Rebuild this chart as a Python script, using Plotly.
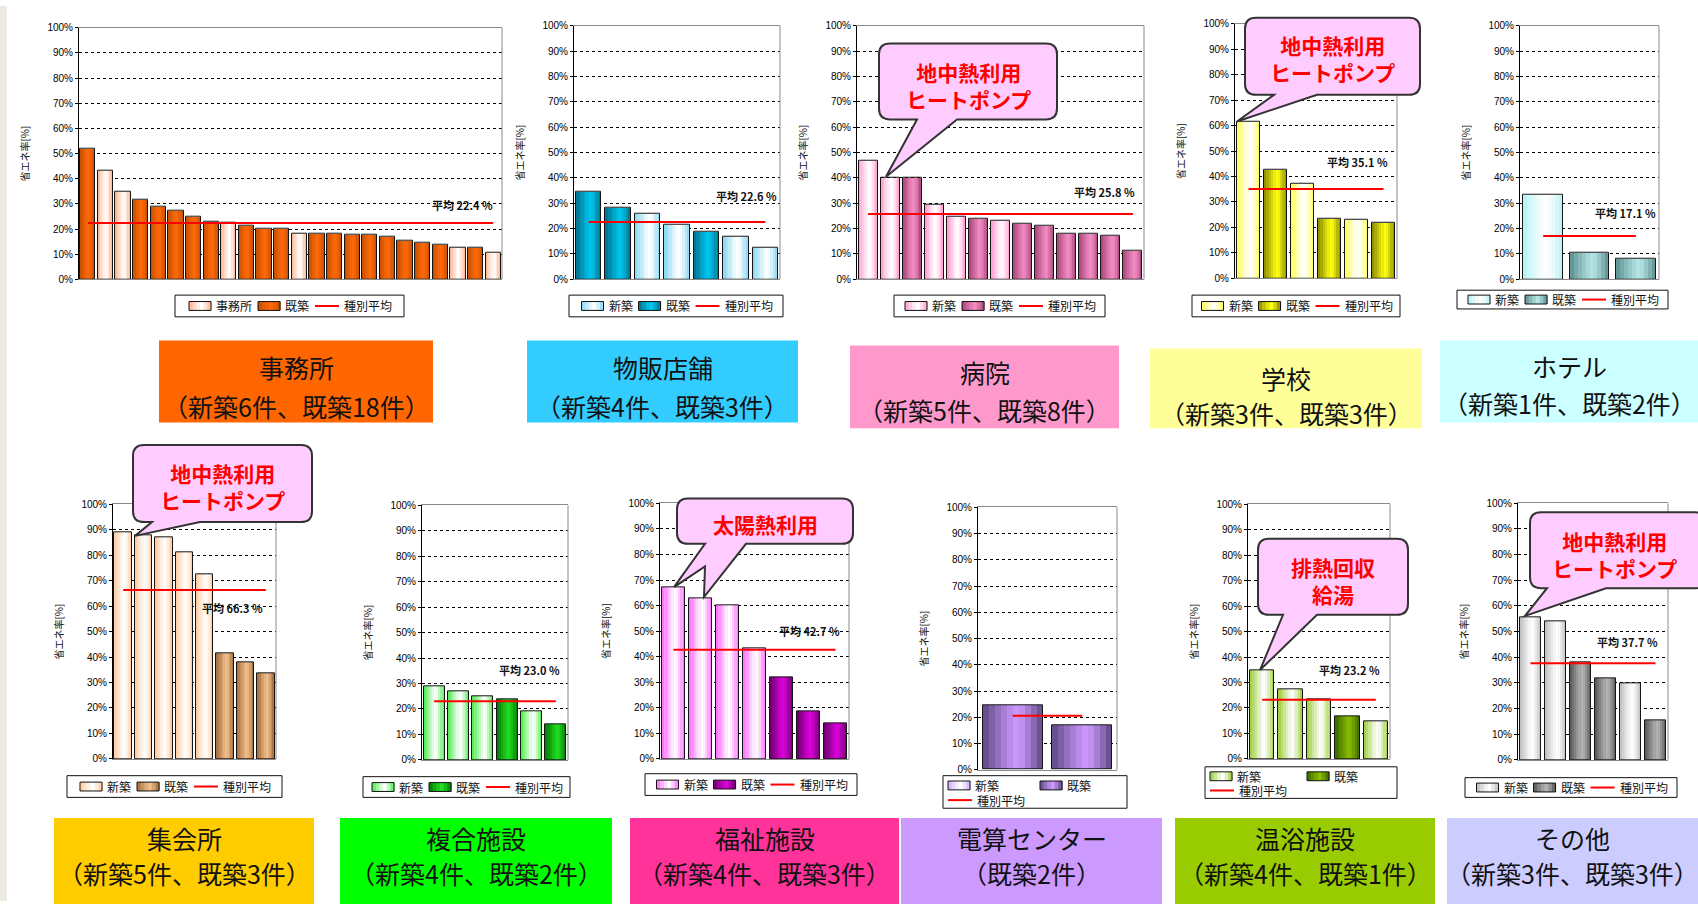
import plotly.graph_objects as go

W, H = 1698, 907

# ---------------- 省エネ率 (%) by building, per use category ----------------
OFFICE_VALS = [52.0, 43.3, 34.7, 31.5, 29.0, 27.4, 24.8, 23.0, 22.4, 21.5, 20.2, 20.2,
               18.2, 18.2, 18.2, 17.9, 17.9, 16.8, 15.4, 14.6, 13.7, 12.6, 12.6, 10.7]
OFFICE_KIND = ["既築", "新築", "新築", "既築", "既築", "既築", "既築", "既築", "新築", "既築", "既築", "既築",
               "新築", "既築", "既築", "既築", "既築", "既築", "既築", "既築", "既築", "新築", "既築", "新築"]
OFFICE_AVG = 22.4

SHOP_VALS = [34.6, 28.1, 25.9, 21.4, 18.7, 16.7, 12.6]
SHOP_KIND = ["既築", "既築", "新築", "新築", "既築", "新築", "新築"]
SHOP_AVG = 22.6

HOSP_VALS = [46.9, 40.0, 40.0, 29.4, 24.7, 24.0, 23.3, 21.9, 21.2, 18.1, 18.1, 17.2, 11.3]
HOSP_KIND = ["新築", "新築", "既築", "新築", "新築", "既築", "新築", "既築", "既築", "既築", "既築", "既築", "既築"]
HOSP_AVG = 25.8

SCHOOL_VALS = [61.5, 42.7, 37.2, 23.4, 23.1, 21.8]
SCHOOL_KIND = ["新築", "既築", "新築", "既築", "新築", "既築"]
SCHOOL_AVG = 35.1

HOTEL_VALS = [33.3, 10.6, 8.0]
HOTEL_KIND = ["新築", "既築", "既築"]
HOTEL_AVG = 17.1

HALL_VALS = [89.0, 88.0, 87.0, 81.0, 72.5, 41.5, 38.0, 33.5]
HALL_KIND = ["新築", "新築", "新築", "新築", "新築", "既築", "既築", "既築"]
HALL_AVG = 66.3

MIXED_VALS = [29.0, 27.1, 24.9, 23.8, 19.0, 13.8]
MIXED_KIND = ["新築", "新築", "新築", "既築", "新築", "既築"]
MIXED_AVG = 23.0

WELFARE_VALS = [67.3, 62.7, 60.1, 43.4, 31.9, 18.7, 14.0]
WELFARE_KIND = ["新築", "新築", "新築", "新築", "既築", "既築", "既築"]
WELFARE_AVG = 42.7

DC_VALS = [24.7, 17.1]
DC_KIND = ["既築", "既築"]
DC_AVG = 20.6

BATH_VALS = [34.9, 27.4, 23.3, 16.6, 14.8]
BATH_KIND = ["新築", "新築", "新築", "既築", "新築"]
BATH_AVG = 23.2

OTHER_VALS = [55.5, 54.2, 38.1, 31.9, 29.8, 15.4]
OTHER_KIND = ["新築", "新築", "既築", "既築", "新築", "既築"]
OTHER_AVG = 37.7

TICK_VALUES = list(range(0, 101, 10))
TICK_TEXT = [f"{v}%" for v in TICK_VALUES]
Y_TITLE = "省エネ率[%]"
LEGEND_NAMES = ("新築", "既築", "種別平均")

# ---------------- panel layout & styling ----------------
PANELS = [
    dict(vals=OFFICE_VALS, kind=OFFICE_KIND, avg=OFFICE_AVG, plot=(79, 502, 22, 277),
         avg_lab=(23.1, 29.5), new=("#FFB08A", "#FFFFFF"), old=("#C24E00", "#FF6A08"),
         legend=(175, 293, 404, 315), legend_rows=1, new_name="事務所",
         box=(159, 339, 433, 422), box_col="#FF6600", title="事務所", sub="（新築6件、既築18件）", ty=(366, 405)),
    dict(vals=SHOP_VALS, kind=SHOP_KIND, avg=SHOP_AVG, plot=(574, 780, 20, 277),
         avg_lab=(6.45, 33.0), new=("#86D6F2", "#FFFFFF"), old=("#006E8A", "#00C6EE"),
         legend=(569, 293, 783, 315), legend_rows=1,
         box=(527, 339, 798, 422), box_col="#33CCFF", title="物販店舗", sub="（新築4件、既築3件）", ty=(366, 405)),
    dict(vals=HOSP_VALS, kind=HOSP_KIND, avg=HOSP_AVG, plot=(857, 1144, 20, 277),
         avg_lab=(12.2, 34.6), new=("#FF9ACD", "#FFFFFF"), old=("#A8447A", "#F28CC2"),
         legend=(894, 293, 1105, 315), legend_rows=1,
         box=(850, 344, 1119, 428), box_col="#FF99CC", title="病院", sub="（新築5件、既築8件）", ty=(371, 409)),
    dict(vals=SCHOOL_VALS, kind=SCHOOL_KIND, avg=SCHOOL_AVG, plot=(1235, 1397, 18, 276),
         avg_lab=(5.25, 45.7), new=("#FFFF55", "#FFFFFF"), old=("#858500", "#FFFF10"),
         legend=(1192, 293, 1400, 315), legend_rows=1,
         box=(1150, 347, 1422, 428), box_col="#FFFF99", title="学校", sub="（新築3件、既築3件）", ty=(377, 412)),
    dict(vals=HOTEL_VALS, kind=HOTEL_KIND, avg=HOTEL_AVG, plot=(1520, 1659, 20, 277),
         avg_lab=(2.47, 26.0), new=("#B8F2F2", "#FFFFFF"), old=("#5A8E8E", "#B6E6E6"),
         legend=(1457, 288, 1668, 307), legend_rows=1,
         box=(1440, 339, 1698, 422), box_col="#CCFFFF", title="ホテル", sub="（新築1件、既築2件）", ty=(365, 402)),
    dict(vals=HALL_VALS, kind=HALL_KIND, avg=HALL_AVG, plot=(113, 276, 505, 763),
         avg_lab=(6.95, 59.3), new=("#FFC89C", "#FFFFFF"), old=("#A06A38", "#F2BE8C"),
         legend=(67, 780, 282, 802), legend_rows=1,
         box=(54, 823, 314, 910), box_col="#FFCC00", title="集会所", sub="（新築5件、既築3件）", ty=(843, 879)),
    dict(vals=MIXED_VALS, kind=MIXED_KIND, avg=MIXED_AVG, plot=(422, 568, 506, 764),
         avg_lab=(5.27, 35.3), new=("#44EE44", "#FFFFFF"), old=("#007800", "#22DD22"),
         legend=(363, 781, 570, 802), legend_rows=1,
         box=(340, 823, 612, 910), box_col="#00FF00", title="複合施設", sub="（新築4件、既築2件）", ty=(843, 879)),
    dict(vals=WELFARE_VALS, kind=WELFARE_KIND, avg=WELFARE_AVG, plot=(660, 849, 504, 763),
         avg_lab=(6.25, 50.2), new=("#FF66FF", "#FFFFFF"), old=("#640064", "#DD00DD"),
         legend=(645, 778, 857, 800), legend_rows=1,
         box=(630, 823, 899, 910), box_col="#FF3399", title="福祉施設", sub="（新築4件、既築3件）", ty=(843, 879)),
    dict(vals=DC_VALS, kind=DC_KIND, avg=DC_AVG, plot=(978, 1117, 508, 774),
         avg_lab=(1.55, 31.6), new=("#CCAAFF", "#FFFFFF"), old=("#5C4880", "#CC99FF"),
         legend=(943, 780, 1127, 813), legend_rows=2, col2=97,
         box=(901, 823, 1162, 910), box_col="#CC99FF", title="電算センター", sub="（既築2件）", ty=(843, 879)),
    dict(vals=BATH_VALS, kind=BATH_KIND, avg=BATH_AVG, plot=(1248, 1390, 505, 763),
         avg_lab=(4.22, 34.9), new=("#99CC33", "#FFFFFF"), old=("#3A6400", "#88BB00"),
         legend=(1205, 771, 1397, 803), legend_rows=2, col2=102,
         box=(1175, 823, 1435, 910), box_col="#99CC00", title="温浴施設", sub="（新築4件、既築1件）", ty=(843, 879)),
    dict(vals=OTHER_VALS, kind=OTHER_KIND, avg=OTHER_AVG, plot=(1518, 1668, 504, 764),
         avg_lab=(5.18, 45.8), new=("#BBBBBB", "#FFFFFF"), old=("#545454", "#B4B4B4"),
         legend=(1465, 782, 1677, 802), legend_rows=1,
         box=(1447, 823, 1698, 910), box_col="#CCCCFF", title="その他", sub="（新築3件、既築3件）", ty=(843, 879)),
]

# speech bubbles: box, tail vertices on the bottom edge (right to left), text, text centre y
CALLOUTS = [
    dict(box=(879, 38, 1057, 115), tail=[(957, 115), (886, 173), (917, 115)],
         text="地中熱利用<br>ヒートポンプ", cy=81),
    dict(box=(1245, 12, 1420, 90), tail=[(1317, 90), (1237, 117), (1274, 90)],
         text="地中熱利用<br>ヒートポンプ", cy=53),
    dict(box=(133, 445, 312, 523), tail=[(200, 523), (135, 537), (152, 523)],
         text="地中熱利用<br>ヒートポンプ", cy=487),
    dict(box=(677, 499, 853, 545), tail=[(746, 545), (704, 599), (705, 568), (674, 589), (705, 545)],
         text="太陽熱利用", cy=525),
    dict(box=(1258, 540, 1408, 617), tail=[(1317, 617), (1260, 673), (1283, 617)],
         text="排熱回収<br>給湯", cy=582),
    dict(box=(1530, 513, 1706, 590), tail=[(1606, 590), (1525, 618), (1547, 590)],
         text="地中熱利用<br>ヒートポンプ", cy=556),
]

FONT = "Noto Sans CJK JP, Noto Sans, sans-serif"
TICK_FONT = "Liberation Sans Narrow, Liberation Sans, Arial, sans-serif"
BAR_W = 0.86
STRIPS = 10


def px(x, y):
    return x / W, 1 - y / H


def hex_rgb(h):
    return tuple(int(h[i:i + 2], 16) for i in (1, 3, 5))


def mix(a, b, t):
    ra, rb = hex_rgb(a), hex_rgb(b)
    return "#%02X%02X%02X" % tuple(round(ra[i] + (rb[i] - ra[i]) * t) for i in range(3))


def gradient(edge, center, k, peak=0.58):
    cols = []
    for j in range(k):
        t = (j + 0.5) / k
        w = (peak - t) / peak if t < peak else (t - peak) / (1 - peak)
        cols.append(mix(center, edge, min(1.0, w) ** 1.2))
    return cols


def path_str(cmds):
    out = []
    for c, pts in cmds:
        out.append(c + " ".join("%.5f,%.5f" % px(x, y) for x, y in pts))
    return " ".join(out) + " Z"


def callout_path(box, tail, r=11):
    x0, y0, x1, y1 = box
    cmds = [("M", [(x0 + r, y0)]), ("L", [(x1 - r, y0)]), ("Q", [(x1, y0), (x1, y0 + r)]),
            ("L", [(x1, y1 - r)]), ("Q", [(x1, y1), (x1 - r, y1)])]
    cmds += [("L", [p]) for p in tail]
    cmds += [("L", [(x0 + r, y1)]), ("Q", [(x0, y1), (x0, y1 - r)]),
             ("L", [(x0, y0 + r)]), ("Q", [(x0, y0), (x0 + r, y0)])]
    return path_str(cmds)


fig = go.Figure()
shapes, annotations = [], []

# thin page strip on the left edge
shapes.append(dict(type="rect", xref="paper", yref="paper", x0=0, x1=7 / W, y0=0, y1=1,
                   fillcolor="#ECEAE1", line=dict(width=0), layer="below"))

for i, p in enumerate(PANELS):
    n = i + 1
    sfx = "" if n == 1 else str(n)
    xa, ya = "x" + sfx, "y" + sfx
    vals, kind = p["vals"], p["kind"]
    idx = list(range(len(vals)))

    for kname, (edge, center) in (("新築", p["new"]), ("既築", p["old"])):
        xs = [j for j in idx if kind[j] == kname]
        ys = [vals[j] for j in xs]
        if not xs:
            continue
        for k, col in enumerate(gradient(edge, center, STRIPS)):
            wk = BAR_W / STRIPS * (1.25 if k < STRIPS - 1 else 1.0)
            fig.add_trace(go.Bar(x=xs, y=ys, width=wk, offset=-BAR_W / 2 + k * BAR_W / STRIPS,
                                 marker=dict(color=col, line=dict(width=0)),
                                 xaxis=xa, yaxis=ya, hoverinfo="skip", showlegend=False))
    # bar outlines
    fig.add_trace(go.Bar(x=idx, y=vals, width=BAR_W, offset=-BAR_W / 2,
                         marker=dict(color="rgba(0,0,0,0)", line=dict(color="#151515", width=1)),
                         xaxis=xa, yaxis=ya, hoverinfo="skip", showlegend=False))
    # category average
    fig.add_trace(go.Scatter(x=[0, len(vals) - 1], y=[p["avg"], p["avg"]], mode="lines",
                             line=dict(color="#FF0000", width=2), xaxis=xa, yaxis=ya,
                             hoverinfo="skip", showlegend=False))

    x0, x1, yt, yb = p["plot"]
    fig.layout["xaxis" + sfx] = dict(domain=[x0 / W, x1 / W], range=[-0.5, len(vals) - 0.5],
                                     anchor=ya, showticklabels=False, ticks="", showgrid=False,
                                     zeroline=False, showline=True, mirror=True,
                                     linecolor="#8A8A8A", linewidth=1, fixedrange=True)
    fig.layout["yaxis" + sfx] = dict(domain=[1 - yb / H, 1 - yt / H], range=[0, 100], anchor=xa,
                                     tickvals=TICK_VALUES, ticktext=TICK_TEXT,
                                     tickfont=dict(family=TICK_FONT, size=10, color="#000"),
                                     ticks="outside", ticklen=3, tickcolor="#000",
                                     showgrid=True, gridcolor="#000", griddash="dot", gridwidth=1,
                                     zeroline=False, showline=True, linecolor="#000", linewidth=1,
                                     title=dict(text=Y_TITLE, font=dict(family=FONT, size=10, color="#111"),
                                                standoff=15),
                                     fixedrange=True)
    # right-hand frame edge
    shapes.append(dict(type="line", xref=xa + " domain", yref=ya + " domain", x0=1, x1=1, y0=0, y1=1,
                       line=dict(color="#8A8A8A", width=1), layer="above"))

    # average label
    ax, ay = p["avg_lab"]
    annotations.append(dict(xref=xa, yref=ya, x=ax, y=ay, xanchor="right", yanchor="middle",
                            text="<b>平均 %.1f %%</b>" % p["avg"], showarrow=False,
                            font=dict(family=FONT, size=11, color="#111")))

    # legend box
    lx0, ly0, lx1, ly1 = p["legend"]
    shapes.append(dict(type="rect", xref="paper", yref="paper",
                       x0=lx0 / W, x1=lx1 / W, y0=1 - ly1 / H, y1=1 - ly0 / H,
                       fillcolor="#FFFFFF", line=dict(color="#111", width=1)))
    fs = 12
    names = (p.get("new_name", LEGEND_NAMES[0]), LEGEND_NAMES[1], LEGEND_NAMES[2])

    def swatch(sx, cy, edge, center):
        sw, sh = 22, 9
        cols = gradient(edge, center, 6)
        for k, c in enumerate(cols):
            a = sx + k * sw / 6
            shapes.append(dict(type="rect", xref="paper", yref="paper",
                               x0=a / W, x1=(a + sw / 6 + 0.6) / W,
                               y0=1 - (cy + sh / 2) / H, y1=1 - (cy - sh / 2) / H,
                               fillcolor=c, line=dict(width=0)))
        shapes.append(dict(type="rect", xref="paper", yref="paper",
                           x0=sx / W, x1=(sx + sw) / W, y0=1 - (cy + sh / 2) / H, y1=1 - (cy - sh / 2) / H,
                           fillcolor="rgba(0,0,0,0)", line=dict(color="#111", width=1)))
        return sx + sw

    def ltext(tx, cy, s):
        annotations.append(dict(xref="paper", yref="paper", x=tx / W, y=1 - cy / H, xanchor="left",
                                yanchor="middle", text=s, showarrow=False,
                                font=dict(family=FONT, size=fs, color="#111")))
        return tx + fs * len(s)

    def lline(sx, cy):
        shapes.append(dict(type="line", xref="paper", yref="paper", x0=sx / W, x1=(sx + 24) / W,
                           y0=1 - cy / H, y1=1 - cy / H, line=dict(color="#FF0000", width=2)))
        return sx + 24

    if p["legend_rows"] == 1:
        cy = (ly0 + ly1) / 2
        natural = 22 + 3 + fs * len(names[0]) + 8 + 22 + 3 + fs * len(names[1]) + 8 + 24 + 3 + fs * 4
        cx = lx0 + (lx1 - lx0 - natural) / 2
        cx = ltext(swatch(cx, cy, *p["new"]) + 3, cy, names[0]) + 8
        cx = ltext(swatch(cx, cy, *p["old"]) + 3, cy, names[1]) + 8
        ltext(lline(cx, cy) + 3, cy, names[2])
    else:
        r1 = ly0 + (ly1 - ly0) * 0.3
        r2 = ly0 + (ly1 - ly0) * 0.75
        ltext(swatch(lx0 + 5, r1, *p["new"]) + 3, r1, names[0])
        ltext(swatch(lx0 + p["col2"], r1, *p["old"]) + 3, r1, names[1])
        ltext(lline(lx0 + 5, r2) + 3, r2, names[2])

    # category label box
    bx0, by0, bx1, by1 = p["box"]
    shapes.append(dict(type="rect", xref="paper", yref="paper",
                       x0=bx0 / W, x1=bx1 / W, y0=1 - by1 / H, y1=1 - by0 / H,
                       fillcolor=p["box_col"], line=dict(width=0)))
    cxm = (bx0 + bx1) / 2
    for text, yy in ((p["title"], p["ty"][0]), (p["sub"], p["ty"][1])):
        annotations.append(dict(xref="paper", yref="paper", x=cxm / W, y=1 - yy / H,
                                xanchor="center", yanchor="middle", text=text, showarrow=False,
                                font=dict(family=FONT, size=25, color="#111")))

# speech-bubble callouts
for c in CALLOUTS:
    shapes.append(dict(type="path", xref="paper", yref="paper", path=callout_path(c["box"], c["tail"]),
                       fillcolor="#FFCCFF", line=dict(color="#333333", width=2), layer="above"))
    cxm = (c["box"][0] + min(c["box"][2], W)) / 2
    annotations.append(dict(xref="paper", yref="paper", x=cxm / W, y=1 - c["cy"] / H,
                            xanchor="center", yanchor="middle", text="<b>%s</b>" % c["text"],
                            showarrow=False, align="center",
                            font=dict(family=FONT, size=21, color="#FF0000")))

fig.update_layout(width=W, height=H, margin=dict(l=0, r=0, t=0, b=0),
                  paper_bgcolor="#FFFFFF", plot_bgcolor="#FFFFFF",
                  barmode="overlay", bargap=0, showlegend=False,
                  font=dict(family=FONT), shapes=shapes, annotations=annotations)

fig.write_html("out.html")
